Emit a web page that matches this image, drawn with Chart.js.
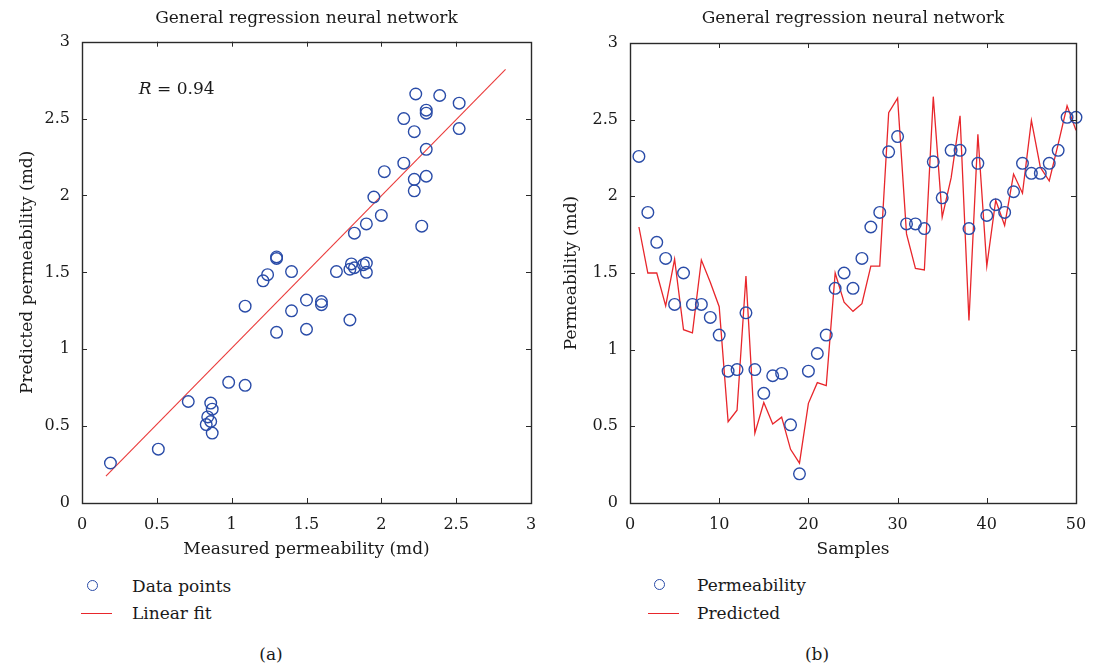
<!DOCTYPE html>
<html><head><meta charset="utf-8">
<script src="https://cdn.jsdelivr.net/npm/chart.js@4.4.0/dist/chart.umd.min.js"></script>
<style>
html,body{margin:0;padding:0;background:#fff;width:1094px;height:666px;overflow:hidden;font-family:"DejaVu Serif",serif;color:#1a1a1a;position:relative}
.wrap{position:absolute;top:0;height:570px}
.leg{position:absolute;font-size:17px;line-height:20px;white-space:nowrap}
.circ{position:absolute;width:9px;height:9px;border:1.4px solid #2a4ca8;border-radius:50%}
.ln{position:absolute;height:1.4px;background:#e8262b}
.cap{position:absolute;font-size:17px;line-height:20px;transform:translate(-50%,-50%)}
</style></head>
<body>
<div class="wrap" style="left:0;width:551px"><canvas id="c1" width="551" height="570"></canvas></div>
<div class="wrap" style="left:547px;width:553px"><canvas id="c2" width="553" height="570"></canvas></div>

<div class="circ" style="left:87px;top:580px"></div>
<div class="leg" style="left:132px;top:576px">Data points</div>
<div class="ln" style="left:81px;top:613px;width:31px"></div>
<div class="leg" style="left:132px;top:603px">Linear fit</div>
<div class="cap" style="left:271px;top:654px">(a)</div>

<div class="circ" style="left:654px;top:579px"></div>
<div class="leg" style="left:697px;top:575px">Permeability</div>
<div class="ln" style="left:648px;top:613px;width:31px"></div>
<div class="leg" style="left:697px;top:603px">Predicted</div>
<div class="cap" style="left:817px;top:654px">(b)</div>

<script>
// ---- data (a) ----
const xMeasured = [0.19,0.51,0.71,0.86,0.87,0.84,0.86,0.83,0.87,0.98,1.09,1.09,1.30,1.40,1.50,1.50,1.60,1.60,1.79,1.21,1.24,1.30,1.30,1.40,1.70,1.79,1.80,1.82,1.88,1.90,1.90,1.82,1.90,1.95,2.00,2.02,2.15,2.22,2.22,2.27,2.30,2.30,2.15,2.22,2.23,2.30,2.30,2.39,2.52,2.52];
const yPredicted = [0.26,0.35,0.66,0.65,0.61,0.56,0.53,0.51,0.455,0.785,0.765,1.28,1.11,1.25,1.13,1.32,1.31,1.29,1.19,1.445,1.485,1.60,1.59,1.505,1.505,1.52,1.555,1.53,1.55,1.56,1.50,1.755,1.815,1.99,1.87,2.155,2.21,2.105,2.03,1.80,2.125,2.30,2.50,2.415,2.66,2.555,2.535,2.65,2.60,2.435];
const fitX = [0.16, 2.83];
const fitY = [0.175, 2.82];
const measuredTicks = [0,0.5,1,1.5,2,2.5,3];
const predictedTicks = [0,0.5,1,1.5,2,2.5,3];
// ---- data (b) ----
const samples = [1,2,3,4,5,6,7,8,9,10,11,12,13,14,15,16,17,18,19,20,21,22,23,24,25,26,27,28,29,30,31,32,33,34,35,36,37,38,39,40,41,42,43,44,45,46,47,48,49,50];
const permeability = [2.26,1.895,1.70,1.595,1.295,1.50,1.295,1.295,1.21,1.095,0.86,0.87,1.24,0.87,0.715,0.83,0.845,0.51,0.19,0.86,0.975,1.095,1.40,1.50,1.40,1.595,1.80,1.895,2.29,2.39,1.82,1.82,1.79,2.225,1.99,2.30,2.30,1.79,2.215,1.875,1.945,1.895,2.03,2.215,2.15,2.15,2.215,2.30,2.515,2.515];
const predicted = [1.80,1.50,1.50,1.285,1.59,1.13,1.11,1.585,1.44,1.28,0.53,0.605,1.48,0.455,0.655,0.515,0.56,0.35,0.26,0.65,0.785,0.765,1.50,1.31,1.25,1.30,1.545,1.545,2.545,2.64,1.755,1.53,1.52,2.65,1.865,2.12,2.525,1.19,2.405,1.545,1.975,1.81,2.145,2.02,2.495,2.19,2.10,2.34,2.59,2.43];
const sampleTicks = [0,10,20,30,40,50];
const permTicks = [0,0.5,1,1.5,2,2.5,3];

const BLUE = '#2a4ca8', RED = '#e8262b', INK = '#1a1a1a';
Chart.defaults.font.family = "'DejaVu Serif', serif";
Chart.defaults.color = INK;

const zip = (xs, ys) => xs.map((x, i) => ({x, y: ys[i]}));

const framePlugin = {
  id: 'frame',
  afterDraw(chart) {
    const {ctx, chartArea: {left, right, top, bottom}, scales: {x, y}} = chart;
    ctx.save();
    ctx.strokeStyle = '#2a2a2a';
    ctx.lineWidth = 1;
    const L = 5;
    const seg = (a, b, c, d) => { ctx.beginPath(); ctx.moveTo(a, b); ctx.lineTo(c, d); ctx.stroke(); };
    x.ticks.forEach(t => {
      const p = Math.round(x.getPixelForValue(t.value)) + 0.5;
      if (p <= left + 2 || p >= right - 2) return;
      seg(p, bottom, p, bottom - L); seg(p, top, p, top + L);
    });
    y.ticks.forEach(t => {
      const p = Math.round(y.getPixelForValue(t.value)) + 0.5;
      if (p <= top + 2 || p >= bottom - 2) return;
      seg(left, p, left + L, p); seg(right, p, right - L, p);
    });
    ctx.lineWidth = 1.4;
    ctx.strokeRect(Math.round(left) + 0.5, Math.round(top) + 0.5, Math.round(right - left), Math.round(bottom - top));
    ctx.restore();
  }
};

const rPlugin = {
  id: 'rlabel',
  afterDatasetsDraw(chart, args, opts) {
    if (!opts || !opts.text) return;
    const {ctx, scales: {x, y}} = chart;
    const px = x.getPixelForValue(opts.x), py = y.getPixelForValue(opts.y);
    ctx.save();
    ctx.fillStyle = INK;
    ctx.textBaseline = 'middle';
    ctx.font = "italic 17px 'DejaVu Serif', serif";
    ctx.fillText(opts.italic, px, py);
    const w = ctx.measureText(opts.italic).width;
    ctx.font = "17px 'DejaVu Serif', serif";
    ctx.fillText(opts.text, px + w, py);
    ctx.restore();
  }
};

function axis(min, max, ticksArr, title, opts) {
  return {
    type: 'linear', min, max,
    afterBuildTicks: s => { s.ticks = ticksArr.map(v => ({value: v})); },
    grid: {display: false, drawTicks: false},
    border: {display: false},
    ticks: {font: {size: 16}, padding: 12, color: INK, callback: v => String(v), autoSkip: false, maxRotation: 0},
    title: {display: true, text: title, font: {size: 17}, color: INK, padding: opts.titlePad},
    afterFit: opts.afterFit
  };
}

function baseOptions(titleText, titleTop, titleBottom, padRight) {
  return {
    responsive: false, animation: false, devicePixelRatio: 1,
    layout: {padding: {left: 0, right: padRight, top: 0, bottom: 0}},
    plugins: {
      legend: {display: false},
      tooltip: {enabled: false},
      title: {display: true, fullSize: false, text: titleText, font: {size: 17, weight: 'normal'}, color: INK,
              padding: {top: titleTop, bottom: titleBottom}}
    }
  };
}

// ---- chart (a) ----
const optA = baseOptions('General regression neural network', 8, 13.3, 20);
optA.scales = {
  x: axis(0, 3, measuredTicks, 'Measured permeability (md)', {titlePad: {top: 0, bottom: 9.8}, afterFit: s => { s.height = 67; }}),
  y: axis(0, 3, predictedTicks, 'Predicted permeability (md)', {titlePad: {top: 17, bottom: 0}, afterFit: s => { s.width = 82; }})
};
optA.plugins.rlabel = {x: 0.38, y: 2.69, italic: 'R', text: ' = 0.94'};
new Chart(document.getElementById('c1'), {
  type: 'scatter',
  data: {datasets: [
    {label: 'Data points', data: zip(xMeasured, yPredicted), pointStyle: 'circle', pointRadius: 5.8,
     pointBorderWidth: 1.4, pointBorderColor: BLUE, pointBackgroundColor: 'rgba(0,0,0,0)', showLine: false, order: 1},
    {label: 'Linear fit', data: zip(fitX, fitY), showLine: true, borderColor: '#ea3b3b', borderWidth: 1.1,
     pointRadius: 0, tension: 0, order: 2}
  ]},
  options: optA,
  plugins: [framePlugin, rPlugin]
});

// ---- chart (b) ----
const optB = baseOptions('General regression neural network', 8, 14.6, 24);
optB.scales = {
  x: axis(0, 50, sampleTicks, 'Samples', {titlePad: {top: 0, bottom: 9.8}, afterFit: s => { s.height = 67; }}),
  y: axis(0, 3, permTicks, 'Permeability (md)', {titlePad: {top: 14, bottom: 0}, afterFit: s => { s.width = 83; }})
};
new Chart(document.getElementById('c2'), {
  type: 'scatter',
  data: {datasets: [
    {label: 'Permeability', data: zip(samples, permeability), pointStyle: 'circle', pointRadius: 5.8,
     pointBorderWidth: 1.4, pointBorderColor: BLUE, pointBackgroundColor: 'rgba(0,0,0,0)', showLine: false, order: 1, clip: 8},
    {label: 'Predicted', data: zip(samples, predicted), showLine: true, borderColor: RED, borderWidth: 1.3,
     pointRadius: 0, tension: 0, order: 2}
  ]},
  options: optB,
  plugins: [framePlugin]
});
</script>
</body></html>
